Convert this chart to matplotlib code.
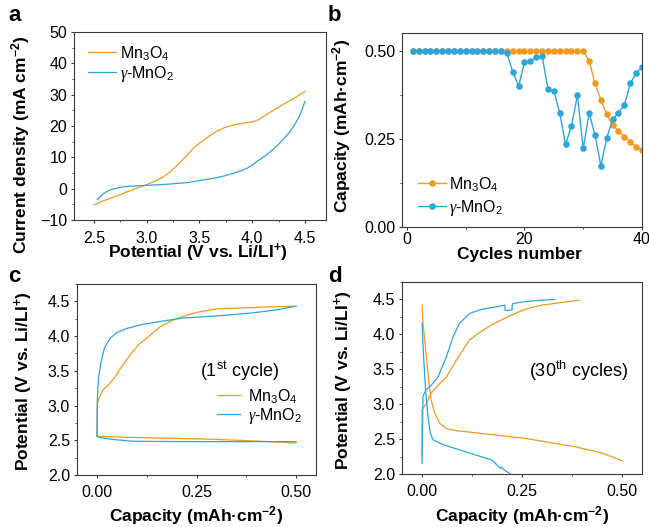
import matplotlib
matplotlib.use('Agg')
import matplotlib.pyplot as plt
from matplotlib.ticker import MultipleLocator

plt.rcParams['font.family'] = ['Liberation Sans', 'DejaVu Sans']
plt.rcParams['mathtext.fontset'] = 'custom'
plt.rcParams['mathtext.rm'] = 'Liberation Sans'
plt.rcParams['mathtext.it'] = 'Liberation Serif:italic'
plt.rcParams['mathtext.bf'] = 'Liberation Sans:bold'
plt.rcParams['mathtext.default'] = 'regular'

ORANGE = '#F39A1E'
BLUE = '#2BA6DF'

# ---- panel a: LSV curves ----
a_v_mn3o4 = [2.50, 2.55, 2.62, 2.71, 2.80, 2.90, 3.00, 3.09, 3.16, 3.22, 3.30, 3.38, 3.44, 3.50,
             3.58, 3.66, 3.74, 3.82, 3.90, 4.01, 4.06, 4.10, 4.18, 4.29, 4.40, 4.50]
a_j_mn3o4 = [-5.2, -4.4, -3.5, -2.4, -1.2, 0.1, 1.3, 2.6, 3.8, 5.3, 7.8, 10.6, 12.8, 14.5,
             16.5, 18.3, 19.5, 20.3, 20.8, 21.4, 22.0, 22.9, 24.6, 26.8, 28.9, 31.0]
a_v_mno2 = [2.53, 2.56, 2.59, 2.64, 2.68, 2.75, 2.81, 2.90, 2.97, 3.08, 3.19, 3.30, 3.38, 3.50,
            3.58, 3.66, 3.74, 3.82, 3.90, 3.95, 4.00, 4.04, 4.09, 4.14, 4.20, 4.26, 4.31, 4.36,
            4.40, 4.44, 4.47, 4.50]
a_j_mno2 = [-3.5, -2.5, -1.5, -0.6, -0.1, 0.4, 0.7, 0.9, 1.0, 1.2, 1.4, 1.7, 1.9, 2.6,
            3.0, 3.5, 4.1, 4.9, 5.8, 6.5, 7.5, 8.6, 9.7, 10.9, 12.6, 14.5, 16.3, 18.3,
            20.3, 22.6, 25.0, 27.8]

# ---- panel b: capacity vs cycle ----
b_cycles = list(range(1, 41))
b_cap_mn3o4 = [0.50] * 30 + [0.472, 0.408, 0.362, 0.320, 0.289, 0.273, 0.256, 0.242, 0.228, 0.218]
b_cap_mno2 = [0.50] * 16 + [0.493, 0.441, 0.400, 0.468, 0.472, 0.482, 0.486, 0.391, 0.386, 0.323,
                            0.235, 0.287, 0.374, 0.223, 0.324, 0.261, 0.174, 0.253, 0.306, 0.325,
                            0.346, 0.408, 0.436, 0.455]

# ---- panel c: 1st cycle charge/discharge ----
c_q_mn3o4_ch = [0.0, 0.001, 0.0067, 0.015, 0.0275, 0.044, 0.061, 0.086, 0.107, 0.125,
                0.158, 0.190, 0.225, 0.258, 0.300, 0.342, 0.425, 0.500]
c_v_mn3o4_ch = [2.57, 3.03, 3.12, 3.22, 3.29, 3.40, 3.55, 3.75, 3.89, 3.97,
                4.13, 4.23, 4.30, 4.35, 4.39, 4.40, 4.42, 4.43]
c_q_mn3o4_dis = [0.0, 0.008, 0.092, 0.258, 0.400, 0.500]
c_v_mn3o4_dis = [2.56, 2.555, 2.54, 2.52, 2.49, 2.46]
c_q_mno2_ch = [0.0, 0.001, 0.004, 0.011, 0.019, 0.033, 0.050, 0.075, 0.108, 0.158,
               0.217, 0.300, 0.383, 0.442, 0.500]
c_v_mno2_ch = [2.57, 3.08, 3.40, 3.64, 3.83, 3.97, 4.05, 4.11, 4.16, 4.21,
               4.26, 4.29, 4.33, 4.37, 4.43]
c_q_mno2_dis = [0.0, 0.0067, 0.030, 0.0525, 0.080, 0.108, 0.258, 0.500]
c_v_mno2_dis = [2.56, 2.54, 2.52, 2.505, 2.49, 2.485, 2.48, 2.48]

# ---- panel d: 30th cycle charge/discharge ----
d_q_mn3o4_ch = [0.0, 0.0, 0.011, 0.023, 0.040, 0.061, 0.086, 0.107, 0.119, 0.142, 0.175, 0.217,
                0.258, 0.300, 0.342, 0.393]
d_v_mn3o4_ch = [2.25, 2.92, 3.01, 3.16, 3.27, 3.39, 3.63, 3.82, 3.92, 4.02, 4.14, 4.26,
                4.36, 4.42, 4.45, 4.49]
d_q_mn3o4_dis = [0.0, 0.0025, 0.011, 0.0175, 0.023, 0.032, 0.044, 0.061, 0.086, 0.119, 0.258,
                 0.383, 0.450, 0.500]
d_v_mn3o4_dis = [4.42, 4.16, 3.68, 3.30, 3.06, 2.87, 2.73, 2.65, 2.62, 2.60, 2.51,
                 2.39, 2.30, 2.19]
d_q_mno2_ch = [0.0, 0.0025, 0.009, 0.023, 0.040, 0.061, 0.078, 0.094, 0.119, 0.150,
               0.192, 0.207, 0.208, 0.225, 0.226, 0.258, 0.300, 0.332]
d_v_mno2_ch = [2.15, 3.11, 3.20, 3.27, 3.39, 3.68, 3.97, 4.16, 4.30, 4.36,
               4.40, 4.42, 4.34, 4.35, 4.44, 4.47, 4.49, 4.50]
d_q_mno2_dis = [0.0, 0.004, 0.009, 0.015, 0.021, 0.0275, 0.0525, 0.119, 0.175, 0.196,
                0.198, 0.205, 0.221]
d_v_mno2_dis = [4.16, 3.68, 3.20, 2.82, 2.58, 2.49, 2.42, 2.30, 2.20, 2.08,
                2.10, 2.06, 2.00]

lab_mn3o4 = 'Mn$_3$O$_4$'
lab_mno2 = r'$\mathit{\gamma}$-MnO$_2$'

fig = plt.figure(figsize=(6.49, 5.27), dpi=100)
ax_a = fig.add_axes([74 / 649, 1 - 220 / 527, 252 / 649, 188 / 527])
ax_b = fig.add_axes([402 / 649, 1 - 227 / 527, 240 / 649, 194 / 527])
ax_c = fig.add_axes([77 / 649, 1 - 475 / 527, 239 / 649, 191 / 527])
ax_d = fig.add_axes([402 / 649, 1 - 474 / 527, 240 / 649, 192 / 527])

for ax in (ax_a, ax_b, ax_c, ax_d):
    for sp in ax.spines.values():
        sp.set_linewidth(0.8)
        sp.set_color('#3a3a3a')
    ax.tick_params(which='major', length=2.5, width=0.8, color='#3a3a3a', labelsize=11.5)
    ax.tick_params(which='minor', length=1.5, width=0.6, color='#3a3a3a')
    ax.tick_params(axis='x', pad=4.5)
    ax.tick_params(axis='y', pad=2.5)
ax_a.tick_params(axis='x', pad=5.5)
ax_b.tick_params(axis='x', pad=1.2)

lw = 0.9
LABEL_KW = dict(fontsize=12.5, fontweight='bold')

# panel a
ax_a.plot(a_v_mn3o4, a_j_mn3o4, color=ORANGE, lw=lw, label=lab_mn3o4)
ax_a.plot(a_v_mno2, a_j_mno2, color=BLUE, lw=lw, label=lab_mno2)
ax_a.set_xlim(2.31, 4.70)
ax_a.set_ylim(-10, 50)
ax_a.xaxis.set_major_locator(MultipleLocator(0.5))
ax_a.xaxis.set_minor_locator(MultipleLocator(0.25))
ax_a.yaxis.set_major_locator(MultipleLocator(10))
ax_a.yaxis.set_minor_locator(MultipleLocator(5))
ax_a.set_xlabel('Potential (V vs. Li/LI$^{+}$)', va='baseline', **LABEL_KW)
ax_a.set_ylabel('Current density (mA cm$^{-2}$)', **LABEL_KW)
ax_a.xaxis.set_label_coords(0.49, -(258 - 220) / 188)
ax_a.yaxis.set_label_coords(-0.165, 0.40)
ax_a.legend(loc='upper left', bbox_to_anchor=(0.03, 0.97), frameon=False, fontsize=11.5,
            handlelength=1.75, handletextpad=0.25, labelspacing=0.05, borderaxespad=0)

# panel b
ax_b.plot(b_cycles, b_cap_mn3o4, color=ORANGE, lw=1.0, marker='o', ms=3.7, label=lab_mn3o4)
ax_b.plot(b_cycles, b_cap_mno2, color=BLUE, lw=1.0, marker='o', ms=3.7, label=lab_mno2)
ax_b.set_xlim(-0.85, 40)
ax_b.set_ylim(0, 0.551)
ax_b.xaxis.set_major_locator(MultipleLocator(20))
ax_b.xaxis.set_minor_locator(MultipleLocator(10))
ax_b.set_yticks([0, 0.25, 0.5], ['0.00', '0.25', '0.50'])
ax_b.yaxis.set_minor_locator(MultipleLocator(0.125))
ax_b.set_xlabel('Cycles number', va='baseline', **LABEL_KW)
ax_b.set_ylabel('Capacity (mAh·cm$^{-2}$)', **LABEL_KW)
ax_b.xaxis.set_label_coords(0.49, -(259 - 227) / 194)
ax_b.yaxis.set_label_coords(-0.205, 0.52)
ax_b.legend(loc='lower left', bbox_to_anchor=(0.04, 0.015), frameon=False, fontsize=11.5,
            handlelength=1.75, handletextpad=0.2, labelspacing=0.25, borderaxespad=0)

# panel c
ax_c.plot(c_q_mn3o4_ch, c_v_mn3o4_ch, color=ORANGE, lw=lw, label=lab_mn3o4)
ax_c.plot(c_q_mn3o4_dis, c_v_mn3o4_dis, color=ORANGE, lw=lw)
ax_c.plot(c_q_mno2_ch, c_v_mno2_ch, color=BLUE, lw=lw, label=lab_mno2)
ax_c.plot(c_q_mno2_dis, c_v_mno2_dis, color=BLUE, lw=lw)
ax_c.text(0.682, (475 - 377) / 191, '(1$^{st}$ cycle)', transform=ax_c.transAxes,
          fontsize=13, ha='center', va='baseline')
ax_c.legend(loc='upper left', bbox_to_anchor=(0.56, 0.495), frameon=False, fontsize=11.5,
            handlelength=1.45, handletextpad=0.5, labelspacing=0.02, borderaxespad=0)

# panel d
ax_d.plot(d_q_mn3o4_ch, d_v_mn3o4_ch, color=ORANGE, lw=lw)
ax_d.plot(d_q_mn3o4_dis, d_v_mn3o4_dis, color=ORANGE, lw=lw)
ax_d.plot(d_q_mno2_ch, d_v_mno2_ch, color=BLUE, lw=lw)
ax_d.plot(d_q_mno2_dis, d_v_mno2_dis, color=BLUE, lw=lw)
ax_d.text(0.942, (474 - 377) / 192, '(30$^{th}$ cycles)', transform=ax_d.transAxes,
          fontsize=13, ha='right', va='baseline')

for ax in (ax_c, ax_d):
    ax.set_xlim(-0.05, 0.55)
    ax.set_ylim(2.0, 4.75)
    ax.set_xticks([0, 0.25, 0.5], ['0.00', '0.25', '0.50'])
    ax.xaxis.set_minor_locator(MultipleLocator(0.125))
    ax.yaxis.set_major_locator(MultipleLocator(0.5))
    ax.yaxis.set_minor_locator(MultipleLocator(0.25))
    ax.set_xlabel('Capacity (mAh·cm$^{-2}$)', va='baseline', **LABEL_KW)
    ax.set_ylabel('Potential (V vs. Li/LI$^{+}$)', **LABEL_KW)
ax_c.xaxis.set_label_coords(0.5, -(521 - 475) / 191)
ax_d.xaxis.set_label_coords(0.5, -(521 - 474) / 192)
ax_c.yaxis.set_label_coords(-0.175, 0.49)
ax_d.yaxis.set_label_coords(-0.195, 0.49)

# panel letters
for x, y, s in [(8, 21, 'a'), (328, 21, 'b'), (8, 282, 'c'), (328, 282, 'd')]:
    fig.text(x / 649, 1 - y / 527, s, fontsize=16, fontweight='bold', va='baseline')

fig.savefig('out.png', dpi=100)
